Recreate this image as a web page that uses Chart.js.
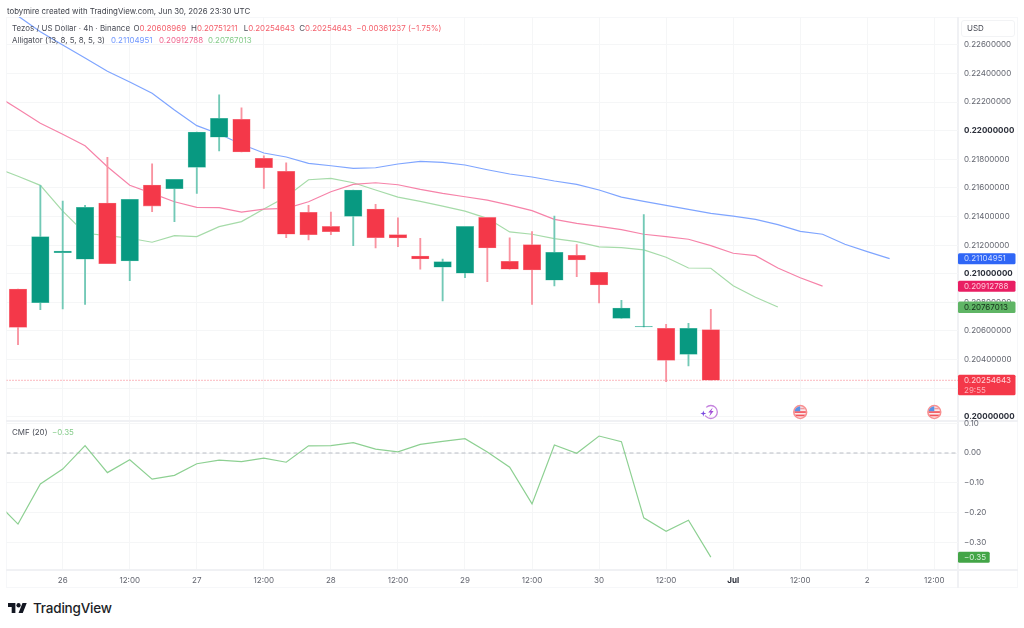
<!DOCTYPE html>
<html>
<head>
<meta charset="utf-8">
<title>Tezos / US Dollar 4h</title>
<script src="https://cdn.jsdelivr.net/npm/chart.js@4"></script>
<style>
  html, body { margin: 0; padding: 0; background: #fff; }
  body { width: 1024px; height: 628px; position: relative; overflow: hidden; font-family: Inter, "Noto Sans", sans-serif; }
  canvas { position: absolute; left: 0; }
  .rule { position: absolute; background: #f0f1f4; }
  .txt { position: absolute; white-space: pre; font-size: 7.95px; line-height: 12px; color: #4a4d57; }
  .red { color: #f4606c; }
  .blue { color: #6f97ff; }
  .pink { color: #f0668f; }
  .green { color: #86cc8b; }
  #frame { position: absolute; left: 6px; top: 17px; width: 1012px; height: 571px; border: 1px solid #f6f7f9; box-sizing: border-box; }
  #usd { position: absolute; left: 961px; top: 20px; width: 54px; height: 17px; border: 1px solid #f2f3f5; border-radius: 3px; box-sizing: border-box; font-size: 8px; line-height: 15px; padding-left: 5px; color: #4a4d57; }
  #brand { position: absolute; left: 8px; top: 603px; }
  #brandText { position: absolute; left: 33px; top: 598px; font-size: 13.5px; line-height: 20px; font-weight: 500; color: #1c1e26; letter-spacing: -0.2px; }
</style>
</head>
<body>
<div id="frame"></div>
<div class="rule" style="left:957px;top:17px;width:2px;height:571px"></div>
<div class="rule" style="left:6px;top:420px;width:1012px;height:2px"></div>
<div class="rule" style="left:6px;top:569px;width:1012px;height:2px"></div>

<canvas id="price" width="1024" height="421" style="top:0"></canvas>
<canvas id="flow" width="1024" height="168" style="top:420px"></canvas>

<div class="txt" style="left:7px;top:4.5px;color:#3c3f48;font-size:7.85px">tobymire created with TradingView.com, Jun 30, 2026 23:30 UTC</div>
<div class="txt" style="left:12px;top:22px">Tezos / US Dollar · 4h · Binance</div>
<div class="txt" style="left:133.5px;top:22px">O<span class="red">0.20608969</span></div>
<div class="txt" style="left:191px;top:22px">H<span class="red">0.20751211</span></div>
<div class="txt" style="left:243.7px;top:22px">L<span class="red">0.20254643</span></div>
<div class="txt" style="left:299.3px;top:22px">C<span class="red">0.20254643</span></div>
<div class="txt red" style="left:356.3px;top:22px">−0.00361237 (−1.75%)</div>
<div class="txt" style="left:12px;top:33.5px">Alligator (13, 8, 5, 8, 5, 3)</div>
<div class="txt blue" style="left:111px;top:33.5px">0.21104951</div>
<div class="txt pink" style="left:159px;top:33.5px">0.20912788</div>
<div class="txt green" style="left:208px;top:33.5px">0.20767013</div>
<div class="txt" style="left:12px;top:426px">CMF (20)  <span class="green">−0.35</span></div>
<div id="usd">USD</div>
<svg id="brand" width="19" height="10" viewBox="0 4 36 18" preserveAspectRatio="none"><path fill="#131722" d="M14 22H7V11H0V4h14v18zM28 22h-8l7.5-18h8L28 22z"/><circle fill="#131722" cx="20" cy="8" r="4"/></svg>
<div id="brandText">TradingView</div>

<script>
// 4h candles, oldest first
const opens = [0.20893,0.20797,0.21147,0.21101,0.21494,0.21089,0.2162,0.21594,0.21744,0.21954,0.2208,0.21807,0.21716,0.21429,0.21331,0.21401,0.21452,0.21273,0.21124,0.21045,0.21003,0.21394,0.21087,0.21203,0.20954,0.21129,0.2101,0.20688,0.20628,0.20618,0.20436,0.20608969];
const highs = [0.20893,0.21618,0.21508,0.21478,0.21814,0.2152,0.21769,0.2166,0.21991,0.2225,0.22159,0.21825,0.21776,0.21478,0.21431,0.21585,0.21485,0.2139,0.21248,0.21103,0.21331,0.21394,0.2125,0.21294,0.21403,0.21203,0.2101,0.20814,0.21413,0.20646,0.20653,0.20751211];
const lows = [0.20503,0.20748,0.20753,0.20786,0.2107,0.20951,0.21434,0.21364,0.21562,0.21858,0.21851,0.21597,0.21252,0.21236,0.21273,0.21196,0.2118,0.21189,0.21031,0.20809,0.20972,0.20944,0.21031,0.20786,0.20914,0.20979,0.20795,0.20688,0.20628,0.20245,0.20355,0.20254643];
const closes = [0.20625,0.21259,0.21159,0.21464,0.2107,0.2152,0.21473,0.2166,0.21991,0.22087,0.21851,0.21741,0.21276,0.21273,0.21294,0.21585,0.21252,0.2125,0.21103,0.21084,0.21331,0.2118,0.21031,0.21026,0.2115,0.21096,0.20921,0.2076,0.20631,0.20394,0.20618,0.20254643];

// Alligator lines; the first value of each sits one bar left of the first candle
const jaw = [0.229,0.22802,0.22692,0.22599,0.22508,0.22415,0.22341,0.22262,0.22145,0.22035,0.21977,0.21905,0.21844,0.21816,0.21772,0.21755,0.21737,0.21741,0.21767,0.21786,0.21779,0.2176,0.21727,0.21697,0.21676,0.21648,0.21625,0.21585,0.21536,0.21506,0.21478,0.2145,0.21422,0.21403,0.2138,0.21343,0.21296,0.21276,0.21206,0.21154,0.21104951];
const teeth = [0.2225,0.22152,0.22052,0.21975,0.21895,0.21748,0.21618,0.21562,0.21503,0.21464,0.21462,0.21431,0.21452,0.21457,0.21503,0.21573,0.21625,0.21636,0.21622,0.2159,0.21562,0.21538,0.21515,0.2148,0.21441,0.2138,0.21352,0.21331,0.21308,0.21276,0.21259,0.21241,0.21196,0.21143,0.21126,0.2104,0.20972,0.20912788];
const lips = [0.21741,0.21681,0.21618,0.21438,0.21283,0.21266,0.21248,0.2122,0.21266,0.21259,0.21329,0.21364,0.21452,0.21538,0.21657,0.21667,0.21636,0.21585,0.21536,0.21506,0.21473,0.21438,0.21387,0.21292,0.21276,0.21245,0.21224,0.21187,0.21182,0.21166,0.21115,0.2104,0.21038,0.20916,0.20835,0.20767013];

// Chaikin money flow, same leading bar as the Alligator lines
const cmf = [-0.162,-0.239,-0.104,-0.054,0.025,-0.066,-0.023,-0.088,-0.075,-0.036,-0.024,-0.029,-0.017,-0.031,0.024,0.025,0.035,0.013,0.004,0.029,0.039,0.048,0.003,-0.048,-0.171,0.027,-0.001,0.057,0.038,-0.218,-0.263,-0.226,-0.35];

// Axis ticks
const priceTicks = [0.2,0.202,0.204,0.206,0.208,0.21,0.212,0.214,0.216,0.218,0.22,0.222,0.224,0.226];
const boldPrices = [0.2,0.21,0.22];
const flowTicks = [0.1,0,-0.1,-0.2,-0.3];
const timeTickBars = [2,5,8,11,14,17,20,23,26,29,32,35,38,41];
const timeTickLabels = ['26','12:00','27','12:00','28','12:00','29','12:00','30','12:00','Jul','12:00','2','12:00'];

// Bars carrying an economic-calendar marker
const boltBars = [31];
const flagBars = [35,41];

// Visible windows of the shared bar axis and of both value axes
const barMin = -0.515, barMax = 42.06;
const priceMin = 0.19977, priceMax = 0.22795;
const flowMin = -0.3909, flowMax = 0.1042;

const UP = '#089981', DOWN = '#f43849';
const UP_WICK = '#72c9b6', DOWN_WICK = '#f993a0';
const GRID = '#f5f6f7', AXIS_TEXT = '#62656f';
const AXIS_FONT = 'Inter, "Noto Sans", sans-serif';
const AXIS_SIZE = 8;

const minus = s => s.replace('-', '\u2212');
const isUp = i => closes[i] >= opens[i];
const isBoldPrice = c => !!c.tick && boldPrices.includes(c.tick.value);
const isMonthTick = c => !!c.tick && c.tick.value === 32;

// Panes line up exactly, so axes may not reserve room for half-labels
const noLabelMargins = s => { s.paddingTop = s.paddingBottom = s.paddingLeft = s.paddingRight = 0; };
const fitValueAxis = s => { s.width = 66; noLabelMargins(s); };

const sharedX = {
  type: 'linear', min: barMin, max: barMax, offset: false,
  afterBuildTicks: s => { s.ticks = timeTickBars.map(v => ({ value: v })); },
  grid: { color: GRID, lineWidth: 1, drawTicks: false, offset: false },
  border: { display: false }
};

function drawTag(ctx, y, w, h, fill, lines, colors) {
  ctx.fillStyle = fill;
  ctx.beginPath();
  ctx.roundRect(958, y - 5.5, w, h, 1.5);
  ctx.fill();
  ctx.font = AXIS_SIZE + 'px ' + AXIS_FONT;
  ctx.textAlign = 'left';
  ctx.textBaseline = 'middle';
  lines.forEach((t, k) => {
    ctx.fillStyle = colors[k];
    ctx.fillText(t, 964, y + k * 10 + 0.3);
  });
}

function drawFlag(ctx, x, y) {
  ctx.save();
  ctx.beginPath(); ctx.arc(x, y, 7.2, 0, Math.PI * 2);
  ctx.fillStyle = '#f88f90'; ctx.fill();
  ctx.beginPath(); ctx.arc(x, y, 5.7, 0, Math.PI * 2); ctx.clip();
  ctx.fillStyle = '#fbe9ea'; ctx.fillRect(x - 6, y - 6, 12, 12);
  ctx.fillStyle = '#f2555c';
  ctx.fillRect(x - 6, y - 0.8, 12, 1.7);
  ctx.fillRect(x - 6, y + 2.6, 12, 1.7);
  ctx.fillStyle = '#ef9a9e';
  ctx.fillRect(x, y - 4.2, 6, 1.5);
  ctx.fillStyle = '#5b93e6'; ctx.fillRect(x - 6, y - 6, 6, 5.2);
  ctx.restore();
}

function drawBolt(ctx, x, y) {
  ctx.save();
  ctx.strokeStyle = '#c583de'; ctx.lineWidth = 1.3;
  ctx.beginPath(); ctx.arc(x, y, 6.5, -Math.PI * 0.75, Math.PI * 0.82); ctx.stroke();
  ctx.fillStyle = '#a24fd6';
  ctx.beginPath();
  ctx.moveTo(x + 2, y - 4.5); ctx.lineTo(x - 2.6, y + 0.6); ctx.lineTo(x - 0.2, y + 0.6);
  ctx.lineTo(x - 1.6, y + 4.4); ctx.lineTo(x + 2.8, y - 1); ctx.lineTo(x + 0.4, y - 1);
  ctx.closePath(); ctx.fill();
  // small four-point sparkle on the left of the ring
  const sx = x - 7.5, sy = y + 1.5;
  ctx.fillStyle = '#7b4be0';
  ctx.beginPath();
  ctx.moveTo(sx - 3, sy); ctx.lineTo(sx - 0.7, sy - 0.7); ctx.lineTo(sx, sy - 3); ctx.lineTo(sx + 0.7, sy - 0.7);
  ctx.lineTo(sx + 3, sy); ctx.lineTo(sx + 0.7, sy + 0.7); ctx.lineTo(sx, sy + 3); ctx.lineTo(sx - 0.7, sy + 0.7);
  ctx.closePath(); ctx.fill();
  ctx.restore();
}

const priceAnnotations = {
  id: 'priceAnnotations',
  afterDraw(chart) {
    const { ctx, scales: { x, y } } = chart;
    const last = a => a[a.length - 1];
    const fmt = v => v.toFixed(8);
    drawTag(ctx, y.getPixelForValue(last(jaw)), 57.5, 11, '#2f66f6', [fmt(last(jaw))], ['#cfdcff']);
    drawTag(ctx, y.getPixelForValue(last(teeth)), 57.5, 11, '#e91e63', [fmt(last(teeth))], ['#ffc9da']);
    drawTag(ctx, y.getPixelForValue(last(lips)), 57.5, 11.5, '#5fb565', [fmt(last(lips))], ['#14301a']);
    const closeValue = last(closes);
    drawTag(ctx, y.getPixelForValue(closeValue), 57.5, 20.5, '#f43849', [fmt(closeValue), '29:55'], ['#ffd5d9', '#ffb0b8']);
    const iconY = 412;
    boltBars.forEach(b => drawBolt(ctx, x.getPixelForValue(b), iconY));
    flagBars.forEach(b => drawFlag(ctx, x.getPixelForValue(b), iconY));
  }
};

const flowAnnotations = {
  id: 'flowAnnotations',
  afterDraw(chart) {
    const v = cmf[cmf.length - 1];
    drawTag(chart.ctx, chart.scales.y.getPixelForValue(v), 31.7, 11, '#43a547', [minus(v.toFixed(2))], ['#d6f0d8']);
  }
};

const lineSet = (values, color) => ({
  type: 'line', data: values.map((v, i) => ({ x: i - 1, y: v })),
  borderColor: color, borderWidth: 1.2, pointRadius: 0, tension: 0, order: 3
});

new Chart(document.getElementById('price'), {
  data: {
    datasets: [
      {
        type: 'bar', grouped: false, order: 0, barThickness: 17.5,
        data: opens.map((o, i) => ({ x: i, y: [o, closes[i]] })),
        backgroundColor: opens.map((_, i) => isUp(i) ? UP : DOWN),
        borderColor: opens.map((_, i) => isUp(i) ? '#6cc9b5' : '#f98b96'),
        borderWidth: 0.6, borderSkipped: false
      },
      {
        type: 'bar', grouped: false, order: 1, barThickness: 1.2,
        data: lows.map((l, i) => ({ x: i, y: [l, highs[i]] })),
        backgroundColor: lows.map((_, i) => isUp(i) ? UP_WICK : DOWN_WICK)
      },
      lineSet(jaw, '#7fa5ff'),
      lineSet(teeth, '#f683a9'),
      lineSet(lips, '#a6dba9'),
      {
        type: 'line', order: 2, pointRadius: 0, borderWidth: 1,
        data: [{ x: barMin, y: closes[closes.length - 1] }, { x: barMax, y: closes[closes.length - 1] }],
        borderColor: '#f8717d', borderDash: [1, 2]
      }
    ]
  },
  options: {
    responsive: false, maintainAspectRatio: false, animation: false, events: [],
    devicePixelRatio: 1,
    layout: { padding: { left: 6.5, top: 17, right: 0, bottom: 1 } },
    plugins: { legend: { display: false }, tooltip: { enabled: false } },
    scales: {
      x: { ...sharedX, ticks: { display: false }, afterFit: s => { s.height = 0; noLabelMargins(s); } },
      y: {
        type: 'linear', position: 'right', min: priceMin, max: priceMax,
        afterBuildTicks: s => { s.ticks = priceTicks.map(v => ({ value: v })); },
        afterFit: fitValueAxis,
        grid: { color: GRID, drawTicks: false },
        border: { display: false },
        ticks: {
          autoSkip: false, padding: 6, color: c => isBoldPrice(c) ? '#2a2e39' : AXIS_TEXT,
          font: c => ({ family: AXIS_FONT, size: AXIS_SIZE, weight: isBoldPrice(c) ? '700' : '400' }),
          callback: v => v.toFixed(8)
        }
      }
    }
  },
  plugins: [priceAnnotations]
});

new Chart(document.getElementById('flow'), {
  data: {
    datasets: [
      {
        type: 'line', data: cmf.map((v, i) => ({ x: i - 1, y: v })),
        borderColor: '#8dd092', borderWidth: 1.2, pointRadius: 0, tension: 0, order: 1
      },
      {
        type: 'line', order: 2, pointRadius: 0, borderWidth: 1,
        data: [{ x: barMin, y: 0 }, { x: barMax, y: 0 }],
        borderColor: '#b9bcc4', borderDash: [4, 3]
      }
    ]
  },
  options: {
    responsive: false, maintainAspectRatio: false, animation: false, events: [],
    devicePixelRatio: 1,
    layout: { padding: { left: 6.5, top: 2, right: 0, bottom: 0 } },
    plugins: { legend: { display: false }, tooltip: { enabled: false } },
    scales: {
      x: {
        ...sharedX,
        afterFit: s => { s.height = 18.7; noLabelMargins(s); },
        ticks: {
          autoSkip: false, maxRotation: 0, padding: 6, color: c => isMonthTick(c) ? '#2a2e39' : AXIS_TEXT,
          font: c => ({ family: AXIS_FONT, size: AXIS_SIZE, weight: isMonthTick(c) ? '700' : '400' }),
          callback: v => timeTickLabels[timeTickBars.indexOf(v)]
        }
      },
      y: {
        type: 'linear', position: 'right', min: flowMin, max: flowMax,
        afterBuildTicks: s => { s.ticks = flowTicks.map(v => ({ value: v })); },
        afterFit: fitValueAxis,
        grid: { color: GRID, drawTicks: false },
        border: { display: false },
        ticks: {
          autoSkip: false, padding: 6, color: AXIS_TEXT,
          font: { family: AXIS_FONT, size: AXIS_SIZE },
          callback: v => minus(v.toFixed(2))
        }
      }
    }
  },
  plugins: [flowAnnotations]
});
</script>
</body>
</html>
